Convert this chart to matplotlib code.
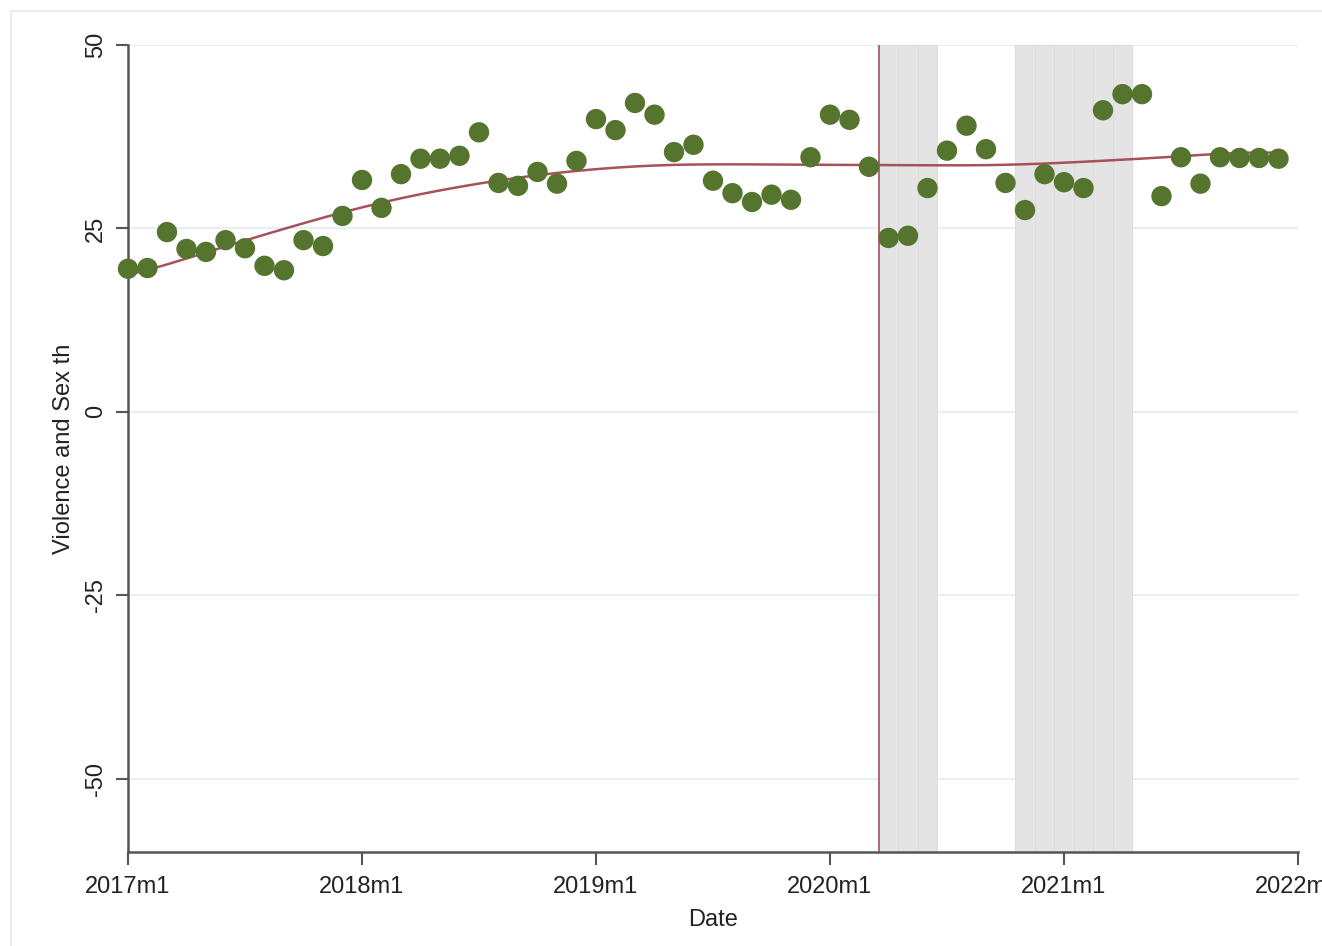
import numpy as np
import matplotlib
matplotlib.use("Agg")
import matplotlib.pyplot as plt
from matplotlib.patches import Rectangle

# Monthly index scores, 2017m1 .. 2021m12
values = [19.5, 19.6, 24.5, 22.2, 21.8, 23.4, 22.3, 19.9, 19.3, 23.4, 22.6, 26.7,
          31.6, 27.8, 32.4, 34.5, 34.5, 34.9, 38.1, 31.2, 30.8, 32.7, 31.1, 34.2,
          39.9, 38.4, 42.1, 40.5, 35.4, 36.4, 31.5, 29.8, 28.6, 29.6, 28.9, 34.7,
          40.5, 39.8, 33.4, 23.7, 24.0, 30.5, 35.6, 39.0, 35.8, 31.2, 27.5, 32.4,
          31.3, 30.5, 41.1, 43.3, 43.3, 29.4, 34.7, 31.1, 34.7, 34.6, 34.6, 34.5]

# Months (index from 2017m1) under lockdown restrictions
lockdown_months = [39, 40, 41, 46, 47, 48, 49, 50, 51]
policy_break = 38.5

xtick_pos = [0, 12, 24, 36, 48, 60]
xtick_labels = ["2017m1", "2018m1", "2019m1", "2020m1", "2021m1", "2022m1"]
ytick_pos = [-50, -25, 0, 25, 50]
ytick_labels = ["-50", "-25", "0", "25", "50"]

y = np.array(values)
x = np.arange(len(y), dtype=float)


def lowess(x, y, bwidth=0.8):
    """Running-line smoother with tricube weights (Stata's lowess)."""
    n = len(x)
    k = int(np.floor((n * bwidth - 0.5) / 2))
    fit = np.empty(n)
    for i in range(n):
        lo, hi = max(0, i - k), min(n - 1, i + k)
        xs, ys = x[lo:hi + 1], y[lo:hi + 1]
        delta = 1.0001 * max(x[hi] - x[i], x[i] - x[lo])
        w = (1 - (np.abs(xs - x[i]) / delta) ** 3) ** 3
        W = w.sum()
        xm, ym = (w * xs).sum() / W, (w * ys).sum() / W
        b = (w * (xs - xm) * (ys - ym)).sum() / (w * (xs - xm) ** 2).sum()
        fit[i] = ym + b * (x[i] - xm)
    return fit


smooth = lowess(x, y)

plt.rcParams["font.family"] = ["Liberation Sans", "DejaVu Sans"]
fig = plt.figure(figsize=(13.22, 9.46), dpi=100)
fig.patch.set_facecolor("white")

# light outer frame of the graph region
fig.patches.append(Rectangle((11 / 1322, -0.1), 1.2, 1.1 - 11 / 946,
                             transform=fig.transFigure, fill=False,
                             edgecolor="#e6eaec", linewidth=1.2))

ax = fig.add_axes([128 / 1322, 1 - 852 / 946, (1298 - 128) / 1322, (852 - 45) / 946])
ax.set_xlim(0, 60)
ax.set_ylim(-60, 50)

# horizontal grid
for v in ytick_pos:
    ax.axhline(v, color="#e8eff2", linewidth=1.6, zorder=0)

# lockdown shading
ax.bar(lockdown_months, [110] * len(lockdown_months), bottom=-60, width=1.0,
       color="#e4e4e4", edgecolor="#dcdcdc", linewidth=0.7, zorder=1)

ax.axvline(policy_break, color="#a8505c", linewidth=1.2, zorder=2)

ax.plot(x, smooth, color="#a8505c", linewidth=1.8, zorder=3)
ax.scatter(x, y, s=215, color="#55752f", edgecolors="none", zorder=4, clip_on=False)

for side in ("top", "right"):
    ax.spines[side].set_visible(False)
for side in ("left", "bottom"):
    ax.spines[side].set_color("#555555")
    ax.spines[side].set_linewidth(1.8)

ax.set_xticks(xtick_pos)
ax.set_xticklabels(xtick_labels)
ax.set_yticks(ytick_pos)
ax.set_yticklabels(ytick_labels, rotation=90, va="center")
ax.tick_params(axis="both", colors="#555555", width=1.5, length=9, labelsize=17,
               labelcolor="#222222")
ax.tick_params(axis="x", pad=8)
ax.tick_params(axis="y", pad=6)

ax.set_xlabel("Date", fontsize=17, color="#222222", labelpad=8)
ax.set_ylabel("Violence and Sex th", fontsize=17, color="#222222", labelpad=7)

fig.savefig("out.png", dpi=100)
